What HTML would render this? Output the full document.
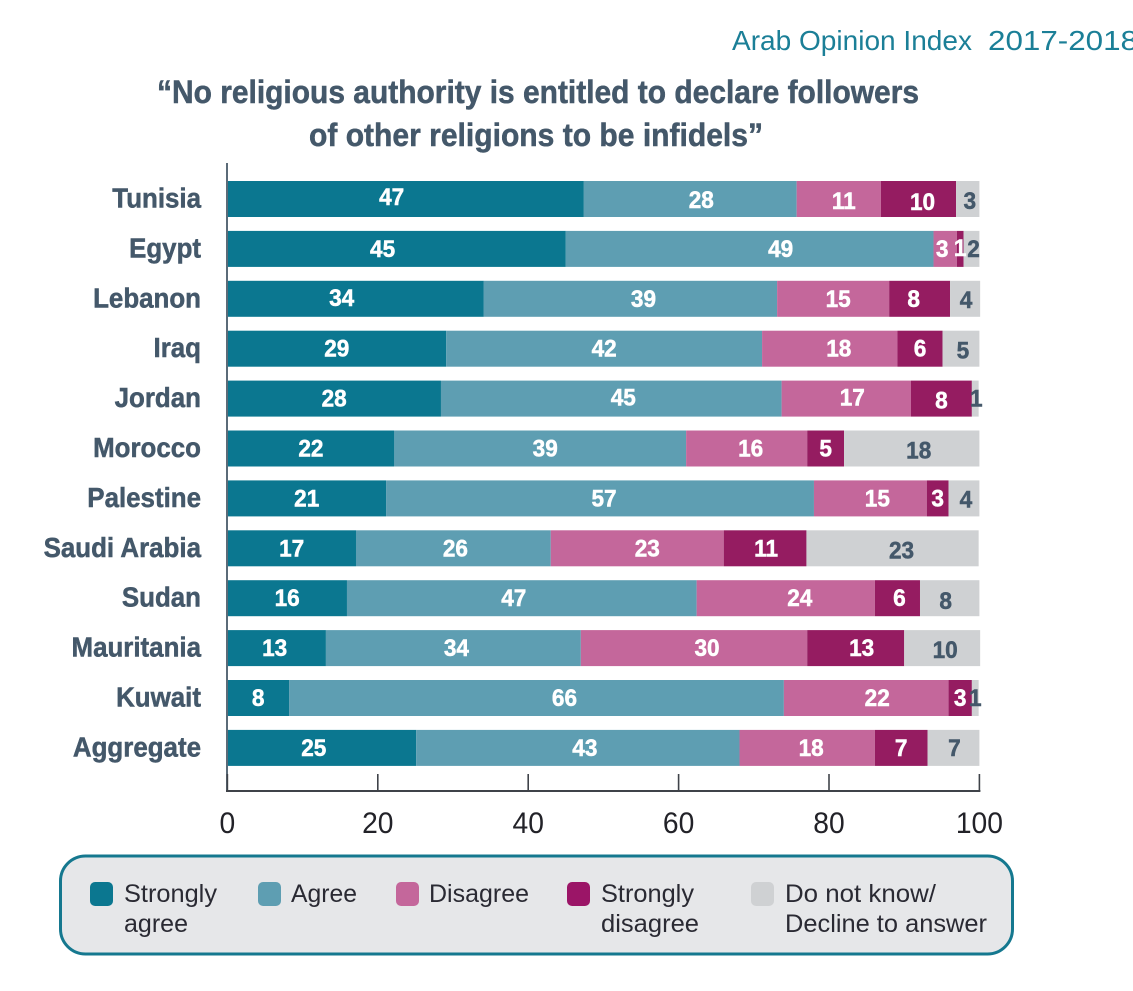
<!DOCTYPE html>
<html lang="en">
<head>
<meta charset="utf-8">
<title>Arab Opinion Index 2017-2018</title>
<style>
html,body{margin:0;padding:0;background:#fff;width:1133px;height:991px;overflow:hidden}
svg{display:block;font-family:"Liberation Sans",sans-serif}
</style>
</head>
<body>
<svg id="chart" width="1133" height="991" viewBox="0 0 1133 991" xmlns="http://www.w3.org/2000/svg">
  <g fill="#1b7f97" font-size="28">
    <text x="732" y="50" textLength="240" lengthAdjust="spacingAndGlyphs">Arab Opinion Index</text>
    <text x="988" y="50" textLength="150" lengthAdjust="spacingAndGlyphs">2017-2018</text>
  </g>
  <g fill="#44586a" stroke="#44586a" stroke-width="0.5" font-size="32" font-weight="700">
    <text x="157" y="103" textLength="762" lengthAdjust="spacingAndGlyphs">“No religious authority is entitled to declare followers</text>
    <text x="309" y="146" textLength="454" lengthAdjust="spacingAndGlyphs">of other religions to be infidels”</text>
  </g>
  <g id="bars"></g>
  <g id="axes"></g>
  <g id="legend">
    <rect x="60.5" y="856" width="952" height="98" rx="25" fill="#e6e7e9" stroke="#15788f" stroke-width="3"/>
    <g font-size="25" fill="#2a2a33">
      <g>
        <rect x="90" y="882" width="23" height="24" rx="5" fill="#0b7790"/>
        <text x="124" y="902" textLength="93" lengthAdjust="spacingAndGlyphs">Strongly</text>
        <text x="124" y="932" textLength="64" lengthAdjust="spacingAndGlyphs">agree</text>
      </g>
      <g>
        <rect x="258" y="882" width="23" height="24" rx="5" fill="#5e9eb2"/>
        <text x="291" y="902" textLength="66" lengthAdjust="spacingAndGlyphs">Agree</text>
      </g>
      <g>
        <rect x="396" y="882" width="23" height="24" rx="5" fill="#c4679b"/>
        <text x="429" y="902" textLength="100" lengthAdjust="spacingAndGlyphs">Disagree</text>
      </g>
      <g>
        <rect x="567" y="882" width="23" height="24" rx="5" fill="#9b1567"/>
        <text x="601" y="902" textLength="93" lengthAdjust="spacingAndGlyphs">Strongly</text>
        <text x="601" y="932" textLength="98" lengthAdjust="spacingAndGlyphs">disagree</text>
      </g>
      <g>
        <rect x="751" y="882" width="23" height="24" rx="5" fill="#cfd1d3"/>
        <text x="785" y="902" textLength="151" lengthAdjust="spacingAndGlyphs">Do not know/</text>
        <text x="785" y="932" textLength="202" lengthAdjust="spacingAndGlyphs">Decline to answer</text>
      </g>
    </g>
  </g>
</svg>
<script>
const categories = ["Tunisia","Egypt","Lebanon","Iraq","Jordan","Morocco","Palestine","Saudi Arabia","Sudan","Mauritania","Kuwait","Aggregate"];
const stronglyAgree = [47.4,45.0,34.1,29.1,28.4,22.2,21.1,17.1,15.9,13.1,8.2,25.1];
const agree = [28.3,48.9,39.0,42.0,45.3,38.8,56.9,25.9,46.5,33.9,65.8,43.0];
const disagree = [11.2,3.1,14.9,18.0,17.2,16.1,15.0,23.0,23.7,30.1,21.9,18.0];
const stronglyDisagree = [10.0,0.9,8.1,6.0,8.1,4.9,2.9,11.0,6.0,12.9,3.1,7.0];
const doNotKnow = [3.1,2.1,4.0,4.9,0.9,18.0,4.1,22.9,7.9,10.1,0.9,6.9];
const xTicks = [0,20,40,60,80,100];

const seriesList = [
  {key:"strongly-agree", values:stronglyAgree, fill:"#0b7790", ink:"#ffffff"},
  {key:"agree", values:agree, fill:"#5e9eb2", ink:"#ffffff"},
  {key:"disagree", values:disagree, fill:"#c4679b", ink:"#ffffff"},
  {key:"strongly-disagree", values:stronglyDisagree, fill:"#951c61", ink:"#ffffff"},
  {key:"do-not-know", values:doNotKnow, fill:"#cfd1d3", ink:"#44586a"}
];

const NS = "http://www.w3.org/2000/svg";
const xScale = v => 227.4 + v * 7.52;
const yBand = i => 181 + i * 49.9;
const bandHeight = 36;
const barsLayer = document.getElementById("bars");
const axesLayer = document.getElementById("axes");

function node(tag, parent, props) {
  const el = document.createElementNS(NS, tag);
  for (const k in props) el.setAttribute(k, props[k]);
  parent.appendChild(el);
  return el;
}

/* horizontal squeeze so Liberation approximates the narrower original face */
function squeeze(el, k) {
  const w = el.getComputedTextLength();
  el.setAttribute("textLength", (w * k).toFixed(1));
  el.setAttribute("lengthAdjust", "spacingAndGlyphs");
}

/* hand-placed value-label shifts, in px, as in the source layout: "row:series" -> dx */
const labelShift = {
  "0:0":-14,"0:1":11,"0:2":5,"0:3":4,"0:4":2,"1:0":-14,"1:1":31,"1:2":-3,"1:4":2,"2:0":-14,"2:1":13,"2:2":5,"2:3":-6,"2:4":1,
  "3:2":9,"3:4":2,"4:1":12,"4:2":6,"4:4":1,"5:1":5,"5:2":4,"5:4":7,"6:1":4,"6:2":7,"6:4":2,"7:1":2,"7:2":10,"7:3":1,"7:4":9,
  "8:1":-8,"8:2":14,"8:3":2,"8:4":-4,"9:0":-2,"9:1":3,"9:2":13,"9:3":6,"9:4":3,"10:1":28,"10:2":11,"11:0":-8,"11:1":7,"11:2":4,"11:4":1
};
/* vertical shifts for the same hand-placed labels: "row:series" -> dy */
const labelDrop = {
  "0:0":-2,"0:1":1,"0:2":2,"0:3":3,"0:4":2,"1:3":-1,"2:0":-1,"2:4":1,"3:4":2,"4:1":-1,"4:2":-1,"4:3":2,
  "5:4":2,"6:4":1,"7:4":2,"8:4":3,"9:4":2
};

categories.forEach((name, i) => {
  const row = node("g", barsLayer, {});
  
  
  const y = yBand(i);

  const cat = node("text", row, {x:201, y:y + 26.5, "text-anchor":"end", "font-size":28, "font-weight":700, fill:"#44586a", stroke:"#44586a", "stroke-width":0.5});
  cat.textContent = name;
  
  
  squeeze(cat, 0.925);

  let cum = 0;
  seriesList.forEach((s, j) => {
    const v = s.values[i];
    const x0 = xScale(cum), x1 = xScale(cum + v);
    const bar = node("rect", row, {x:x0, y:y, width:x1 - x0, height:bandHeight, fill:s.fill});
    
    
    bar.setAttribute('data-series', s.key);
    cum += v;
  });

  cum = 0;
  seriesList.forEach((s, j) => {
    const v = s.values[i];
    const key = i + ":" + j;
    const cx = xScale(cum + v / 2) + (labelShift[key] || 0);
    const lab = node("text", row, {x:cx, y:y + 26 + (labelDrop[key] || 0), "text-anchor":"middle", "font-size":24, "font-weight":700, fill:s.ink, stroke:s.ink, "stroke-width":0.5});
    lab.textContent = String(Math.round(v));
    
    
    squeeze(lab, 0.94);
    cum += v;
  });
});

const yAxis = node("line", axesLayer, {x1:227, x2:227, y1:163, y2:792, stroke:"#5b6b78", "stroke-width":2});



const xAxis = node("line", axesLayer, {x1:226, x2:xScale(100) + 1, y1:791, y2:791, stroke:"#3f4349", "stroke-width":2});



xTicks.forEach(t => {
  const px = xScale(t);
  const tick = node("line", axesLayer, {x1:px, x2:px, y1:774, y2:791, stroke:"#3f4349", "stroke-width":1.6});
  
  
  const lab = node("text", axesLayer, {x:px, y:833, "text-anchor":"middle", "font-size":30, fill:"#222228"});
  lab.textContent = String(t);
  
  
  squeeze(lab, 0.94);
});
</script>
</body>
</html>
